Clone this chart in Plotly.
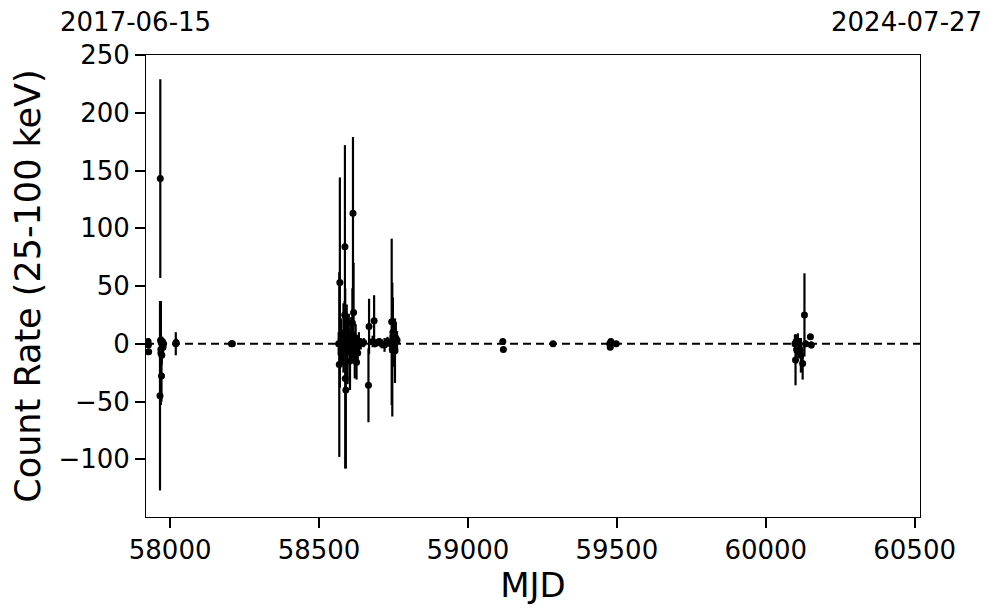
import plotly.graph_objects as go

# Early cluster
mjd_a = [57926, 57927, 57928, 57966, 57967, 57968, 57969, 57969, 57970, 57971, 57972, 57973, 57974, 57975, 57976, 57978, 58019, 58020, 58206, 58209]
rate_a = [2, -1, -7, -45, 143, 3, -5, -8, 1, -28, -10, 0, 2, -2, -3, 0, 0, 1, 0, 0]
err_a = [3, 2, 2, 82, 86, 32, 10, 45, 6, 22, 8, 5, 4, 6, 5, 3, 10, 4, 1, 1]

# Middle cluster
mjd_b = [58566, 58568, 58570, 58574, 58578, 58582, 58586, 58587, 58588, 58590, 58593, 58596, 58600, 58604, 58608,
         58612, 58614, 58616, 58618, 58620, 58623, 58626, 58630, 58634, 58640, 58650, 58668, 58666, 58685, 58680,
         58688, 58695, 58702, 58710, 58720, 58730, 58740, 58744, 58746, 58748, 58750, 58752, 58755, 58758, 58762]
rate_b = [0, -18, 53, 2, -3, 5, 25, 84, -30, -40, 12, -5, 8, -15, 3,
          18, 113, 27, 0, -10, 5, -16, -8, 2, 0, 1, 15, -36, 20, 2,
          0, 1, 2, 0, -1, 2, 0, 19, -5, 10, 2, 0, -6, 5, 3]
err_b = [10, 80, 91, 20, 15, 30, 12, 88, 78, 68, 22, 30, 18, 25, 20,
         30, 66, 43, 10, 20, 12, 15, 10, 8, 5, 4, 24, 32, 22, 5,
         3, 3, 3, 4, 6, 4, 8, 72, 58, 30, 15, 20, 28, 14, 8]

# Sparse points
mjd_c = [59117, 59119, 59286, 59476, 59478, 59480, 59498]
rate_c = [2, -5, 0, 0, -3, 2, 0]
err_c = [1, 1, 1, 2, 2, 2, 1]

# Late cluster
mjd_d = [60098, 60100, 60102, 60104, 60108, 60112, 60118, 60124, 60130, 60134, 60150, 60153]
rate_d = [0, -14, 2, -5, 0, -3, -10, -17, 25, 0, 6, -1]
err_d = [8, 22, 6, 12, 9, 8, 15, 14, 36, 3, 2, 3]

mjd = mjd_a + mjd_b + mjd_c + mjd_d
rate = rate_a + rate_b + rate_c + rate_d
err = err_a + err_b + err_c + err_d

x_range = [57919, 60518]
y_range = [-150, 250]
y_ticks = [-100, -50, 0, 50, 100, 150, 200, 250]
x_ticks = [58000, 58500, 59000, 59500, 60000, 60500]
start_label = "2017-06-15"
end_label = "2024-07-27"

FONT = "DejaVu Sans"

fig = go.Figure()
fig.add_trace(go.Scatter(
    x=x_range, y=[0, 0], mode="lines",
    line=dict(color="black", width=2, dash="8px,5px"),
    showlegend=False, hoverinfo="skip"))
fig.add_trace(go.Scatter(
    x=mjd, y=rate, mode="markers",
    marker=dict(color="black", size=7),
    error_y=dict(type="data", array=err, visible=True, color="black", thickness=2.2, width=0),
    showlegend=False))

fig.update_layout(
    width=997, height=613,
    margin=dict(l=138, r=85, t=47, b=104),
    plot_bgcolor="white", paper_bgcolor="white",
    font=dict(family=FONT, color="black", size=27),
    xaxis=dict(range=x_range, tickvals=x_ticks, ticktext=[str(v) for v in x_ticks],
               ticks="outside", ticklen=10, tickwidth=2,
               tickcolor="black", showline=True, linecolor="black", linewidth=1, mirror=True,
               showgrid=False, zeroline=False, tickfont=dict(size=26),
               title=dict(text="MJD", font=dict(size=34), standoff=6)),
    yaxis=dict(range=y_range, tickvals=y_ticks, ticktext=[("\u2212" + str(-v)) if v < 0 else str(v) for v in y_ticks],
               ticks="outside", ticklen=10, tickwidth=2,
               tickcolor="black", showline=True, linecolor="black", linewidth=1, mirror=True,
               showgrid=False, zeroline=False, tickfont=dict(size=26),
               title=dict(text="Count Rate (25-100 keV)", font=dict(size=35), standoff=10)),
    annotations=[
        dict(text=start_label, xref="paper", yref="paper", x=-0.013, y=1.071,
             showarrow=False, font=dict(size=26), xanchor="center", yanchor="middle"),
        dict(text=end_label, xref="paper", yref="paper", x=0.983, y=1.071,
             showarrow=False, font=dict(size=26), xanchor="center", yanchor="middle"),
    ],
)

fig.write_html("out.html")
